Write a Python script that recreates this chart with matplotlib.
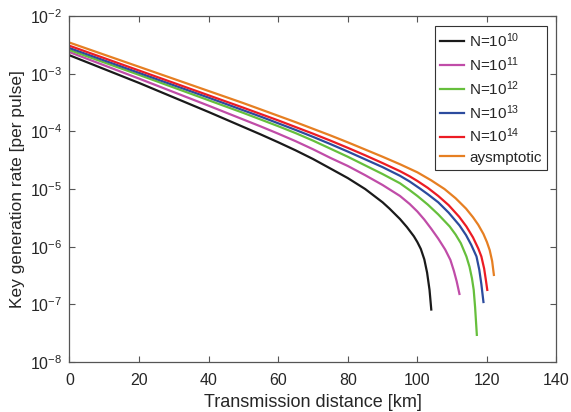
import numpy as np
import matplotlib
matplotlib.use("Agg")
import matplotlib.pyplot as plt

# === Fonts / style (MATLAB-ish look) ===
plt.rcParams['font.family'] = ['Liberation Sans', 'DejaVu Sans']
plt.rcParams['mathtext.fontset'] = 'custom'
plt.rcParams['mathtext.rm'] = 'Liberation Sans'
plt.rcParams['mathtext.default'] = 'regular'

# === Data (log10 of key rate per pulse) ===
x_n10 = [0, 10, 20, 30, 40, 50, 55, 60, 65, 70, 75, 80, 85, 90, 92, 95, 97, 99, 100, 101, 102, 102.8, 103.5, 104]
lg_n10 = [-2.68, -2.92, -3.16, -3.412, -3.664, -3.924, -4.054, -4.189, -4.329, -4.479, -4.644, -4.81,
          -5.0, -5.23, -5.34, -5.52, -5.66, -5.82, -5.92, -6.04, -6.22, -6.45, -6.75, -7.09]

x_n11 = [0, 10, 20, 30, 40, 50, 55, 60, 65, 70, 75, 80, 85, 90, 95, 97.8, 100, 102, 104, 106, 108, 109.5, 110.5, 111.3, 112.1]
lg_n11 = [-2.625, -2.855, -3.085, -3.32, -3.555, -3.795, -3.915, -4.04, -4.17, -4.31, -4.46, -4.60, -4.76,
          -4.93, -5.12, -5.26, -5.39, -5.53, -5.69, -5.86, -6.05, -6.23, -6.42, -6.60, -6.82]

x_n12 = [0, 10, 20, 30, 40, 50, 55, 60, 65, 70, 75, 80, 85, 90, 95, 97.8, 100, 103, 106, 109.3, 111, 112.5,
         114.1, 115, 115.7, 116.2, 116.6, 117.1]
lg_n12 = [-2.59, -2.805, -3.02, -3.24, -3.46, -3.68, -3.795, -3.91, -4.03, -4.16, -4.30, -4.44, -4.59, -4.74,
          -4.90, -5.02, -5.12, -5.27, -5.44, -5.65, -5.79, -5.94, -6.17, -6.35, -6.55, -6.75, -7.05, -7.53]

x_n13 = [0, 10, 20, 30, 40, 50, 55, 60, 65, 70, 75, 80, 85, 90, 95, 97.8, 100.7, 103, 106, 109, 112.1,
         114, 115.5, 117, 117.8, 118.4, 119]
lg_n13 = [-2.555, -2.77, -2.985, -3.20, -3.415, -3.635, -3.745, -3.86, -3.975, -4.095, -4.22, -4.35, -4.485,
          -4.62, -4.77, -4.87, -4.99, -5.09, -5.23, -5.41, -5.63, -5.80, -5.97, -6.17, -6.40, -6.65, -6.96]

x_n14 = [0, 10, 20, 30, 40, 50, 55, 60, 65, 70, 75, 80, 85, 90, 95, 97.8, 100, 103, 106, 109, 112, 114.1,
         116, 117.5, 118.4, 119.2, 119.7, 120.1]
lg_n14 = [-2.515, -2.73, -2.945, -3.16, -3.375, -3.59, -3.70, -3.81, -3.925, -4.04, -4.16, -4.285, -4.415,
          -4.55, -4.69, -4.78, -4.86, -4.98, -5.12, -5.28, -5.48, -5.65, -5.84, -6.03, -6.17, -6.38, -6.58, -6.75]

x_asym = [0, 10, 20, 30, 40, 50, 55, 60, 65, 70, 75, 80, 85, 90, 95, 100, 104, 107.8, 111, 114, 116,
          117.5, 119, 120, 120.8, 121.5, 122]
lg_asym = [-2.46, -2.67, -2.88, -3.09, -3.30, -3.51, -3.62, -3.73, -3.84, -3.955, -4.07, -4.19, -4.315,
           -4.44, -4.57, -4.71, -4.85, -5.00, -5.16, -5.34, -5.49, -5.62, -5.78, -5.92, -6.06, -6.25, -6.49]

labels = ['N=10$^{10}$', 'N=10$^{11}$', 'N=10$^{12}$', 'N=10$^{13}$', 'N=10$^{14}$', 'aysmptotic']
colors = ['#1a1a1a', '#c04ca8', '#66bf3c', '#2c4b9e', '#ec1c24', '#e67f22']
series = [(x_n10, lg_n10), (x_n11, lg_n11), (x_n12, lg_n12),
          (x_n13, lg_n13), (x_n14, lg_n14), (x_asym, lg_asym)]

# === Plot ===
fig = plt.figure(figsize=(5.71, 4.12), dpi=100)
ax = fig.add_axes([0.1217, 0.1214, 0.8529, 0.8396])

for (xs, lg), label, c in zip(series, labels, colors):
    ax.plot(xs, np.power(10.0, lg), color=c, lw=1.6, label=label)

ax.set_yscale('log')
ax.set_xlim(0, 140)
ax.set_ylim(1e-8, 1e-2)
ax.set_xticks(range(0, 141, 20))
ax.set_yticks([1e-8, 1e-7, 1e-6, 1e-5, 1e-4, 1e-3, 1e-2])
ax.minorticks_off()

axis_gray = '#262626'
for sp in ax.spines.values():
    sp.set_color('#555555')
    sp.set_linewidth(0.9)
ax.tick_params(direction='in', length=4, width=0.8, top=True, right=True,
               colors='#555555', labelcolor=axis_gray, labelsize=11.5)
ax.tick_params(axis='x', pad=8)
ax.tick_params(axis='y', pad=5)

ax.set_xlabel('Transmission distance [km]', fontsize=13, color=axis_gray, labelpad=4)
ax.set_ylabel('Key generation rate [per pulse]', fontsize=12.5, color=axis_gray, labelpad=4)

leg = ax.legend(loc='upper right', bbox_to_anchor=(0.98, 0.972), fontsize=11,
                frameon=True, fancybox=False, framealpha=1, edgecolor='#333333',
                handlelength=1.6, handletextpad=0.3, labelspacing=0.35,
                borderpad=0.35, borderaxespad=0)
leg.get_frame().set_linewidth(0.8)
for t in leg.get_texts():
    t.set_color(axis_gray)

fig.savefig('out.png', dpi=100)
